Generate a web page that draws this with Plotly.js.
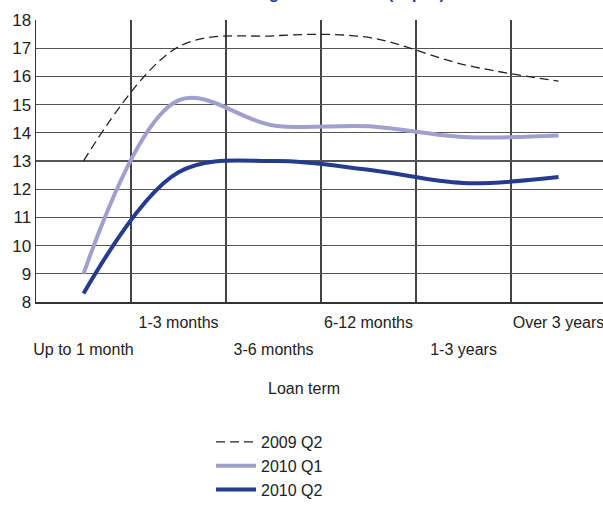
<!DOCTYPE html>
<html>
<head>
<meta charset="utf-8">
<script src="https://cdn.plot.ly/plotly-3.0.1.min.js"></script>
<style>html,body{margin:0;padding:0;background:#fff;}#chart{width:603px;height:505px;}</style>
</head>
<body>
<div id="chart"></div>
<script>
var categories = ["Up to 1 month", "1-3 months", "3-6 months", "6-12 months", "1-3 years", "Over 3 years"];
var seriesNames = ["2009 Q2", "2010 Q1", "2010 Q2"];
var q2_2009 = [13.0, 17.05, 17.44, 17.38, 16.42, 15.83];
var q1_2010 = [9.0, 15.15, 14.26, 14.23, 13.85, 13.9];
var q2_2010 = [8.3, 12.6, 13.0, 12.69, 12.22, 12.43];
var yTicks = [8, 9, 10, 11, 12, 13, 14, 15, 16, 17, 18];
var titleText = "Average interest rate (% p.a.)";
var xTitle = "Loan term";

var FONT = "'Liberation Sans', Arial, sans-serif";
var xs = categories.map(function (c, i) { return i; });
var upperVals = xs.filter(function (i) { return i % 2 === 1; });
var upperText = upperVals.map(function (i) { return categories[i]; });
var lowerVals = xs.filter(function (i) { return i % 2 === 0; });
var lowerText = lowerVals.map(function (i) { return categories[i]; });

var traces = [
  {x: xs, y: q2_2009, name: seriesNames[0], mode: "lines", xaxis: "x2",
   line: {color: "#222222", width: 1.3, dash: "9px,5px", shape: "spline"}},
  {x: xs, y: q1_2010, name: seriesNames[1], mode: "lines",
   line: {color: "#a09fcd", width: 4, shape: "spline"}},
  {x: xs, y: q2_2010, name: seriesNames[2], mode: "lines",
   line: {color: "#253b8e", width: 4, shape: "spline"}}
];

var XRANGE = [-0.5, 5.468];
var layout = {
  width: 603, height: 505,
  margin: {l: 36, r: 0, t: 20, b: 203, pad: 0, autoexpand: false},
  paper_bgcolor: "#ffffff", plot_bgcolor: "#ffffff",
  font: {family: FONT, size: 16, color: "#222222"},
  showlegend: true,
  legend: {x: (211 - 36) / 567, xanchor: "left", y: -(425 - 302) / 282, yanchor: "top",
           font: {family: FONT, size: 16, color: "#222222"}, tracegroupgap: 0,
           itemwidth: 40, bgcolor: "rgba(0,0,0,0)"},
  xaxis: {
    range: XRANGE, tickmode: "array", tickvals: upperVals, ticktext: upperText, tickangle: 0,
    ticklabeloverflow: "allow", ticklabelstandoff: 5,
    showgrid: false, zeroline: false, showline: true, linecolor: "#333333", linewidth: 1.5,
    ticks: "", tickfont: {family: FONT, size: 16, color: "#222222"},
    minor: {tickmode: "linear", tick0: 0.5, dtick: 1, showgrid: true, gridcolor: "#444444", gridwidth: 1.2, ticks: ""},
    fixedrange: true
  },
  xaxis2: {
    range: XRANGE, overlaying: "x", anchor: "y", side: "bottom",
    tickmode: "array", tickvals: lowerVals, ticktext: lowerText, tickangle: 0,
    ticklabeloverflow: "allow", ticklabelstandoff: 36,
    showgrid: false, zeroline: false, showline: false,
    ticks: "", tickfont: {family: FONT, size: 16, color: "#222222"},
    fixedrange: true
  },
  yaxis: {
    range: [8, 18], tickmode: "array", tickvals: yTicks,
    showgrid: true, gridcolor: "#555555", gridwidth: 1.2, zeroline: false,
    showline: true, linecolor: "#333333", linewidth: 1.5, mirror: false,
    ticks: "", ticklen: 0, tickfont: {family: FONT, size: 17, color: "#222222"},
    fixedrange: true
  },
  annotations: [
    {text: xTitle, xref: "paper", yref: "paper", x: (304 - 36) / 567, y: -(388 - 302) / 282,
     xanchor: "center", yanchor: "middle", showarrow: false,
     font: {family: FONT, size: 16, color: "#222222"}},
    {text: "<b>" + titleText + "</b>", xref: "paper", yref: "paper", x: (223 - 36) / 567, y: 1 + (20 - 4) / 282,
     xanchor: "left", yanchor: "bottom", showarrow: false,
     font: {family: "'Liberation Sans', Arial, sans-serif", size: 16, color: "#253b8e"}}
  ]
};

Plotly.newPlot("chart", traces, layout, {displayModeBar: false, staticPlot: true});
</script>
</body>
</html>
